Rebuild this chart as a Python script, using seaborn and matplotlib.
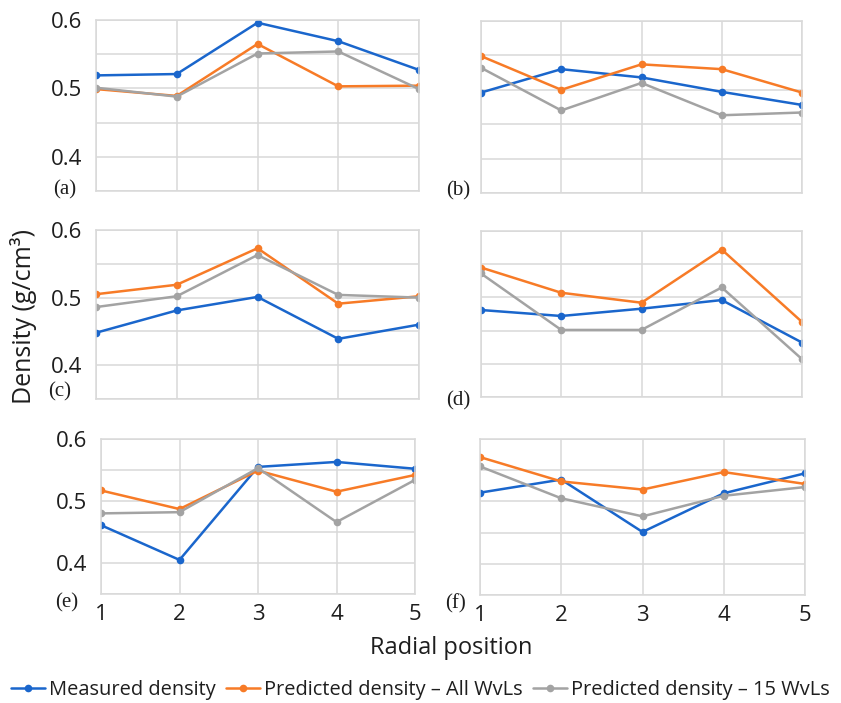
import numpy as np
import pandas as pd
import matplotlib
matplotlib.use("Agg")
import matplotlib.pyplot as plt
import seaborn as sns

positions = [1, 2, 3, 4, 5]
series_names = ["Measured density", "Predicted density \u2013 All WvLs", "Predicted density \u2013 15 WvLs"]
panel_labels = ["(a)", "(b)", "(c)", "(d)", "(e)", "(f)"]

a_measured = [0.519, 0.521, 0.596, 0.569, 0.527]
a_all = [0.499, 0.489, 0.565, 0.503, 0.504]
a_15 = [0.501, 0.488, 0.551, 0.554, 0.499]

b_measured = [0.496, 0.530, 0.518, 0.497, 0.478]
b_all = [0.549, 0.500, 0.537, 0.530, 0.496]
b_15 = [0.532, 0.470, 0.510, 0.463, 0.467]

c_measured = [0.448, 0.481, 0.501, 0.439, 0.460]
c_all = [0.505, 0.519, 0.573, 0.491, 0.502]
c_15 = [0.486, 0.502, 0.563, 0.504, 0.500]

d_measured = [0.481, 0.472, 0.483, 0.496, 0.432]
d_all = [0.545, 0.507, 0.492, 0.572, 0.463]
d_15 = [0.536, 0.451, 0.451, 0.515, 0.407]

e_measured = [0.461, 0.405, 0.555, 0.563, 0.552]
e_all = [0.517, 0.487, 0.549, 0.515, 0.542]
e_15 = [0.480, 0.482, 0.553, 0.466, 0.534]

f_measured = [0.514, 0.535, 0.451, 0.513, 0.545]
f_all = [0.571, 0.532, 0.519, 0.547, 0.528]
f_15 = [0.556, 0.505, 0.476, 0.509, 0.523]

y_ticks = [0.4, 0.5, 0.6]

panels = [
    (a_measured, a_all, a_15),
    (b_measured, b_all, b_15),
    (c_measured, c_all, c_15),
    (d_measured, d_all, d_15),
    (e_measured, e_all, e_15),
    (f_measured, f_all, f_15),
]

colors = ["#1a66cc", "#f77b27", "#a3a3a3"]
palette = dict(zip(series_names, colors))

sns.set_theme(style="whitegrid")
plt.rcParams["font.family"] = ["Open Sans", "DejaVu Sans"]

W, H = 841, 703
fig = plt.figure(figsize=(W / 100, H / 100), dpi=100)

# pixel boxes (left, top, right, bottom)
boxes = [
    (96, 20, 419, 191), (481, 21, 802, 193),
    (96, 230, 419, 399), (481, 231, 802, 397),
    (101, 439, 415, 594), (480, 439, 805, 595),
]
label_pos = [(65, 190), (458, 191), (60, 392), (458, 401), (67, 603), (456, 604)]

grid_c = "#d9d9d9"
txt_c = "#1e1e1e"
axes = []
for i, (vals, box) in enumerate(zip(panels, boxes)):
    l, t, r, b = box
    ax = fig.add_axes([l / W, 1 - b / H, (r - l) / W, (b - t) / H])
    rows = []
    for name, v in zip(series_names, vals):
        for p, d in zip(positions, v):
            rows.append({"pos": p, "density": d, "series": name})
    df = pd.DataFrame(rows)
    sns.lineplot(data=df, x="pos", y="density", hue="series", palette=palette,
                 marker="o", markersize=5.5, markeredgewidth=0, linewidth=1.8,
                 ax=ax, legend=(i == 0))
    ax.set_xlim(1, 5)
    ax.set_ylim(0.35, 0.6)
    ax.set_yticks(np.arange(0.35, 0.6001, 0.05))
    ax.set_xticks(positions)
    ax.grid(True, color=grid_c, linewidth=1.1)
    for s in ax.spines.values():
        s.set_color(grid_c)
        s.set_linewidth(1.1)
    ax.tick_params(length=0, labelsize=16, colors=txt_c)
    ax.tick_params(axis="y", pad=10)
    ax.tick_params(axis="x", pad=7)
    ax.set_xlabel("")
    ax.set_ylabel("")
    if i % 2 == 0:
        ax.set_yticklabels(["" if round(y, 2) not in y_ticks else f"{y:.1f}" for y in ax.get_yticks()])
    else:
        ax.set_yticklabels([])
    if i < 4:
        ax.set_xticklabels([])
    else:
        ax.set_xticklabels([str(p) for p in positions])
    lx, ly = label_pos[i]
    fig.text(lx / W, 1 - ly / H, panel_labels[i], family=["Liberation Serif", "DejaVu Serif"],
             fontsize=15, ha="center", va="center", color=txt_c)
    axes.append(ax)

handles, labels = axes[0].get_legend_handles_labels()
axes[0].get_legend().remove()
fig.legend(handles, labels, loc="center", bbox_to_anchor=(0.5, 1 - 690 / H), ncol=3,
           frameon=False, fontsize=14.4, handlelength=1.7, columnspacing=0.5, handletextpad=0.2,
           labelcolor=txt_c)

fig.text(24 / W, 1 - 316 / H, "Density (g/cm\u00b3)", rotation=90, ha="center", va="center",
         fontsize=18, color=txt_c)
fig.text(451 / W, 1 - 648 / H, "Radial position", ha="center", va="center",
         fontsize=17, color=txt_c)

fig.savefig("out.png", dpi=100)
